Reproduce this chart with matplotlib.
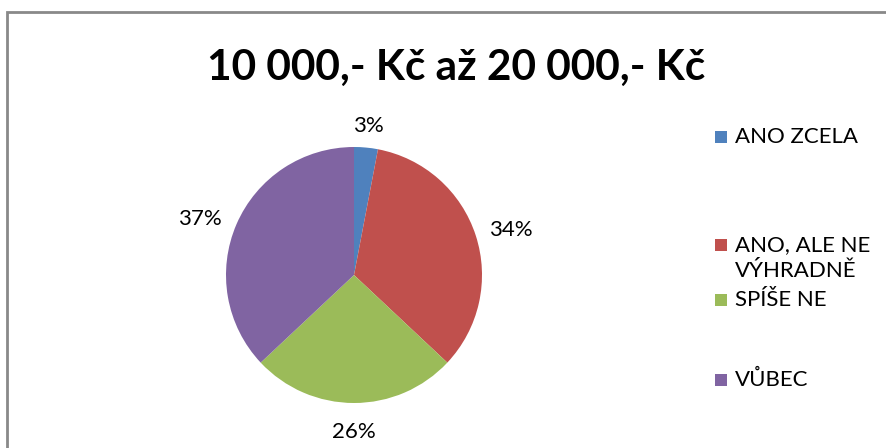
import matplotlib
matplotlib.use('Agg')
import matplotlib.pyplot as plt
from matplotlib.patches import Rectangle
import numpy as np

# ----------------------------
# Data
# ----------------------------
title = "10 000,- Kč až 20 000,- Kč"
labels = ["ANO ZCELA", "ANO, ALE NE\nVÝHRADNĚ", "SPÍŠE NE", "VŮBEC"]
values = [3, 34, 26, 37]
colors = ["#4F81BD", "#C0504D", "#9BBB59", "#8064A2"]

plt.rcParams['font.family'] = ['Lato', 'DejaVu Sans']

W, H = 886, 448
fig = plt.figure(figsize=(W / 100, H / 100), dpi=100)

# chart border
fig.patches.append(Rectangle((7 / W, -0.05), 1.2, (H - 12) / H + 0.05,
                             transform=fig.transFigure, fill=False,
                             edgecolor="#898989", linewidth=2))

fig.text(456 / W, 1 - 68 / H, title, ha='center', va='center',
         fontsize=30.5, fontweight='bold', color='black')

# pie: centre (354, 275), radius 128 px
ax = fig.add_axes([226 / W, (H - 403) / H, 256 / W, 256 / H])
wedges, texts, autotexts = ax.pie(values, colors=colors, startangle=90,
                                  counterclock=False, radius=1,
                                  autopct='%d%%', pctdistance=1.25,
                                  wedgeprops=dict(linewidth=0))
# label placement (distance from centre, small vertical nudge)
dists = [1.19, 1.29, 1.23, 1.31]
nudge = [-0.02, -0.05, 0.0, -0.08]
for w, t, d, n in zip(wedges, autotexts, dists, nudge):
    mid = np.deg2rad((w.theta1 + w.theta2) / 2)
    t.set_position((d * np.cos(mid), d * np.sin(mid) + n))
    t.set_fontsize(16)
    t.set_color('black')
ax.set_xlim(-1, 1)
ax.set_ylim(-1, 1)
ax.set_aspect('equal')
ax.axis('off')

# legend
leg_y = [137, 245, 300, 380]
for lab, c, y in zip(labels, colors, leg_y):
    fig.patches.append(Rectangle((715 / W, 1 - (y + 6) / H), 12 / W, 12 / H,
                                 transform=fig.transFigure, facecolor=c,
                                 edgecolor='none'))
    fig.text(735 / W, 1 - (y - 10) / H, lab, ha='left', va='top',
             fontsize=16, linespacing=1.4)

fig.savefig("out.png", dpi=100)
